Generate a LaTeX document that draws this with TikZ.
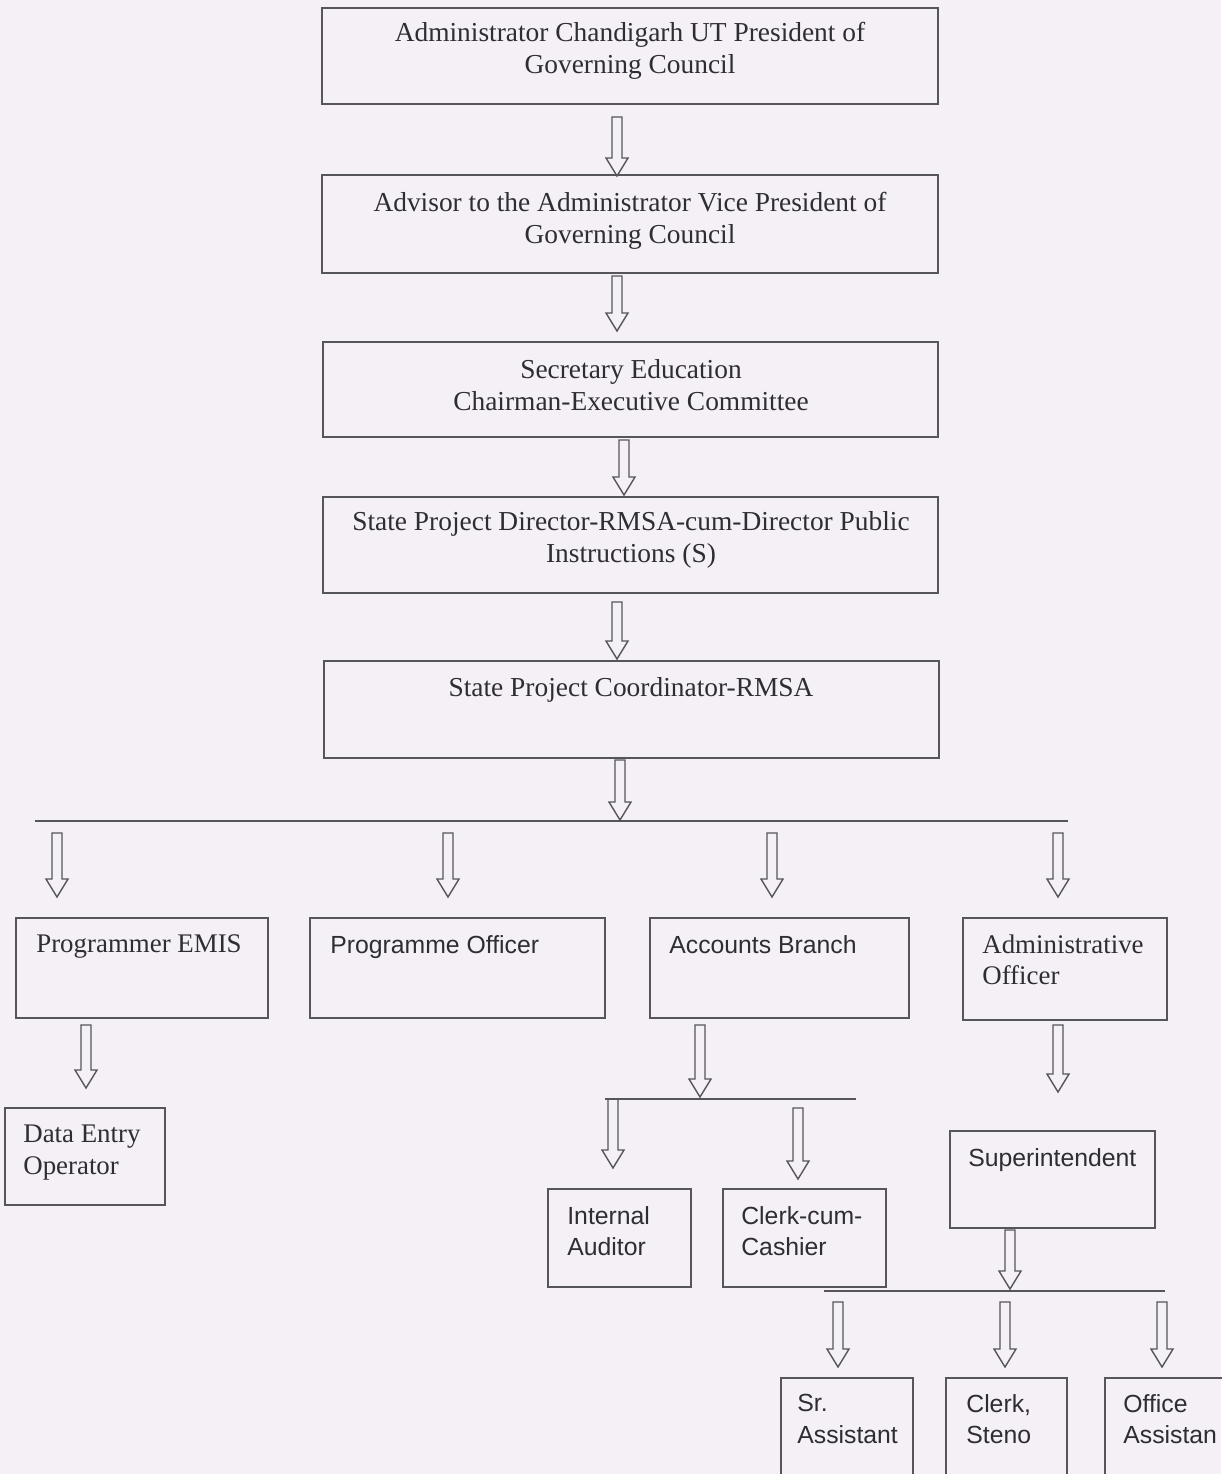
\documentclass[tikz,border=0pt]{standalone}
\usepackage{fontspec}
\setmainfont{Liberation Serif}
\newfontfamily\arialf{Liberation Sans}
\usetikzlibrary{calc}
\definecolor{bgc}{RGB}{244,240,246}
\definecolor{lnc}{RGB}{85,85,90}
\definecolor{txc}{RGB}{45,45,50}
\newcommand\hollow[2]{%
  \draw[harrow] ($(#1)+(-5,0)$) -- ($(#2)+(-5,-18)$) -- ($(#2)+(-11,-18)$) -- (#2)
    -- ($(#2)+(11,-18)$) -- ($(#2)+(5,-18)$) -- ($(#1)+(5,0)$) -- cycle;}
\newcommand\bx[5]{% name, x1, y1, x2, y2
  \node[boxs, minimum width={(#4-#2)*0.02cm}, minimum height={(#5-#3)*0.02cm}] (#1) at ({(#2+#4)/2},{(#3+#5)/2}) {};}
\begin{document}
\begin{tikzpicture}[x=0.02cm, y=-0.02cm,
  boxs/.style={draw=lnc, line width=1.1pt, rectangle, inner sep=0pt},
  harrow/.style={draw=lnc, line width=0.8pt, line join=miter},
  hline/.style={draw=lnc, line width=1.1pt},
  toptxt/.style={text=txc, align=center, inner sep=0pt, font=\fontsize{15.6}{18.2}\selectfont},
  lowser/.style={text=txc, align=left, inner sep=0pt, anchor=north west, font=\fontsize{15.3}{18.2}\selectfont},
  lowsan/.style={text=txc, align=left, inner sep=0pt, anchor=north west, font=\arialf\fontsize{14.1}{18.0}\selectfont}]
\fill[bgc] (0,0) rectangle (1221,1474);
\useasboundingbox (0,0) rectangle (1221,1474);

% top boxes
\bx{b1}{322}{8}{938}{104}
\node[toptxt] (t1) at (630,51) {Administrator Chandigarh UT President of\\Governing Council};
\bx{b2}{322}{175}{938}{273}
\node[toptxt] (t2) at (630,221) {Advisor to the Administrator Vice President of\\Governing Council};
\bx{b3}{323}{342}{938}{437}
\node[toptxt] (t3) at (631,385) {Secretary Education\\Chairman-Executive Committee};
\bx{b4}{323}{497}{938}{593}
\node[toptxt] (t4) at (631,540) {State Project Director-RMSA-cum-Director Public\\Instructions (S)};
\bx{b5}{324}{661}{939}{758}
\node[toptxt] (t5) at (631,690) {State Project Coordinator-RMSA};

% arrows between top boxes
\coordinate (a1s) at (617,117); \coordinate (a1e) at (617,176);
\coordinate (a2s) at (617,276); \coordinate (a2e) at (617,331);
\coordinate (a3s) at (624,440); \coordinate (a3e) at (624,495);
\coordinate (a4s) at (617,602); \coordinate (a4e) at (617,659);
\coordinate (a5s) at (620,760); \coordinate (a5e) at (620,820);
\hollow{a1s}{a1e}\hollow{a2s}{a2e}\hollow{a3s}{a3e}\hollow{a4s}{a4e}\hollow{a5s}{a5e}

% main horizontal line
\coordinate (l1a) at (35,821); \coordinate (l1b) at (1068,821);
\draw[hline] (l1a) -- (l1b);
\coordinate (d1s) at (57,833);   \coordinate (d1e) at (57,897);
\coordinate (d2s) at (448,833);  \coordinate (d2e) at (448,897);
\coordinate (d3s) at (772,833);  \coordinate (d3e) at (772,897);
\coordinate (d4s) at (1058,833); \coordinate (d4e) at (1058,897);
\hollow{d1s}{d1e}\hollow{d2s}{d2e}\hollow{d3s}{d3e}\hollow{d4s}{d4e}

% second level boxes
\bx{c1}{16}{918}{268}{1018}
\node[lowser] (ct1) at (36,934) {Programmer EMIS};
\bx{c2}{310}{918}{605}{1018}
\node[lowsan] (ct2) at (330,935) {Programme Officer};
\bx{c3}{650}{918}{909}{1018}
\node[lowsan] (ct3) at (669,935) {Accounts Branch};
\bx{c4}{963}{918}{1167}{1020}
\node[lowser] (ct4) at (982,934) {Administrative\\Officer};

% Programmer EMIS -> Data Entry Operator
\coordinate (e1s) at (86,1025); \coordinate (e1e) at (86,1088);
\hollow{e1s}{e1e}
\bx{d1}{5}{1108}{165}{1205}
\node[lowser] (dt1) at (23,1125) {Data Entry\\Operator};

% Accounts Branch branch
\coordinate (f1s) at (700,1025); \coordinate (f1e) at (700,1097);
\hollow{f1s}{f1e}
\coordinate (l2a) at (605,1099); \coordinate (l2b) at (856,1099);
\draw[hline] (l2a) -- (l2b);
\coordinate (f2s) at (613,1099); \coordinate (f2e) at (613,1168);
\coordinate (f3s) at (798,1108); \coordinate (f3e) at (798,1179);
\hollow{f2s}{f2e}\hollow{f3s}{f3e}
\bx{g1}{548}{1189}{691}{1287}
\node[lowsan] (gt1) at (567,1206) {Internal\\Auditor};
\bx{g2}{723}{1189}{886}{1287}
\node[lowsan] (gt2) at (741,1206) {Clerk-cum-\\Cashier};

% Administrative Officer branch
\coordinate (h1s) at (1058,1025); \coordinate (h1e) at (1058,1092);
\hollow{h1s}{h1e}
\bx{s1}{950}{1131}{1155}{1228}
\node[lowsan] (st1) at (968,1148) {Superintendent};
\coordinate (h2s) at (1010,1230); \coordinate (h2e) at (1010,1289);
\hollow{h2s}{h2e}
\coordinate (l3a) at (824,1291); \coordinate (l3b) at (1165,1291);
\draw[hline] (l3a) -- (l3b);
\coordinate (k1s) at (838,1302);  \coordinate (k1e) at (838,1367);
\coordinate (k2s) at (1005,1302); \coordinate (k2e) at (1005,1367);
\coordinate (k3s) at (1162,1302); \coordinate (k3e) at (1162,1367);
\hollow{k1s}{k1e}\hollow{k2s}{k2e}\hollow{k3s}{k3e}
\bx{m1}{781}{1378}{913}{1490}
\node[lowsan] (mt1) at (797,1394) {Sr.\\Assistant};
\bx{m2}{946}{1378}{1067}{1490}
\node[lowsan] (mt2) at (966,1394) {Clerk,\\Steno};
\bx{m3}{1105}{1378}{1240}{1490}
\node[lowsan] (mt3) at (1123,1394) {Office\\Assistan};
\end{tikzpicture}
\end{document}
